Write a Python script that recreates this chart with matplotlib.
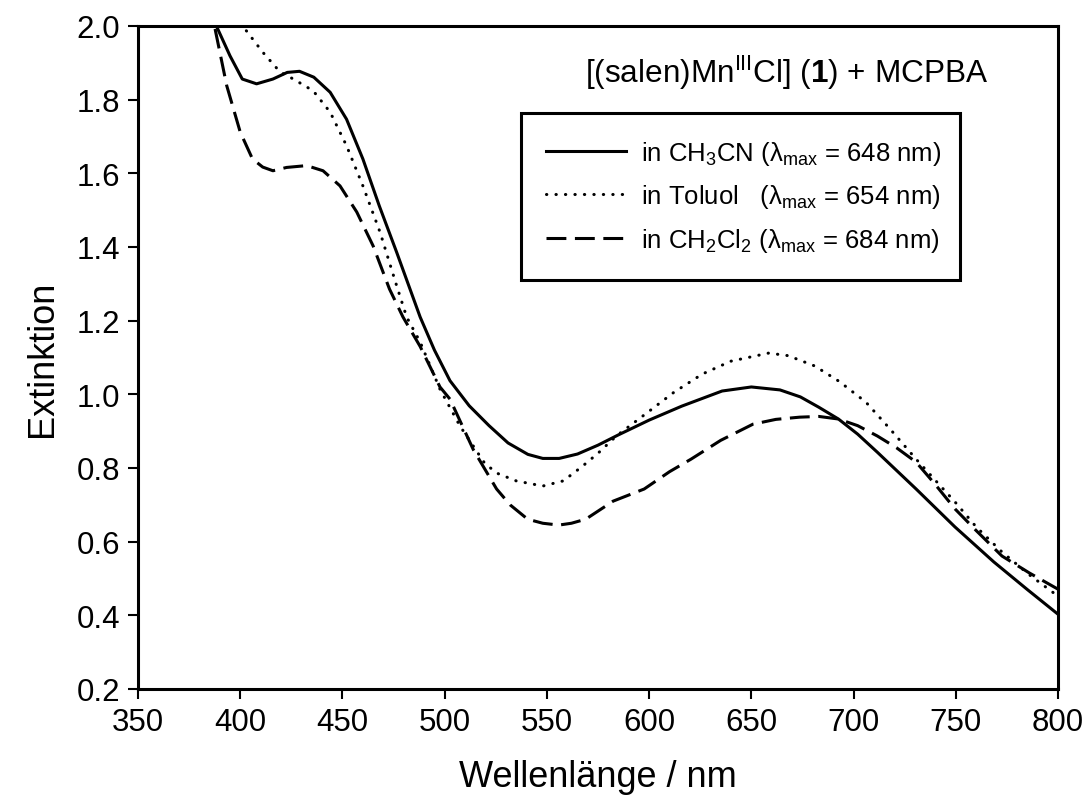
import matplotlib
matplotlib.use('Agg')
import matplotlib.pyplot as plt

plt.rcParams['font.family'] = ['Liberation Sans', 'DejaVu Sans']
plt.rcParams['mathtext.fontset'] = 'custom'
plt.rcParams['mathtext.rm'] = 'Liberation Sans'
plt.rcParams['mathtext.it'] = 'Liberation Sans:italic'
plt.rcParams['mathtext.bf'] = 'Liberation Sans:bold'

# (nm, extinction)
wl_ch3cn = [389, 395, 401, 408, 416, 423, 429, 436, 444, 452, 460, 468, 476.5, 488,
            495, 502.6, 512, 521.7, 531, 540.7, 548, 556, 565, 575, 585, 600, 616,
            635.7, 650, 664, 674, 683, 692.6, 702, 711.6, 730.6, 749.6, 768.6, 785, 800]
ext_ch3cn = [1.992, 1.919, 1.856, 1.843, 1.856, 1.874, 1.877, 1.861, 1.82, 1.747, 1.639, 1.512,
             1.386, 1.21, 1.12, 1.037, 0.969, 0.915, 0.868, 0.837, 0.826, 0.826, 0.838, 0.862,
             0.89, 0.93, 0.968, 1.009, 1.020, 1.012, 0.993, 0.965, 0.933, 0.892, 0.843, 0.743,
             0.640, 0.545, 0.47, 0.403]

wl_toluol = [403, 411, 419.5, 426, 435.7, 444, 452, 460, 468.4, 476.5, 481.4, 488,
             497.7, 507.5, 519.8, 526, 535, 548, 558, 567, 575, 584, 599.5, 612, 626,
             640, 658.5, 668, 681, 693, 706, 718, 730.6, 749.6, 760, 772.6, 786, 800]
ext_toluol = [1.987, 1.929, 1.875, 1.856, 1.824, 1.766, 1.675, 1.566, 1.44, 1.295, 1.21, 1.142,
              1.014, 0.914, 0.811, 0.785, 0.765, 0.751, 0.765, 0.803, 0.84, 0.887, 0.952, 1.005,
              1.055, 1.09, 1.112, 1.105, 1.077, 1.035, 0.979, 0.905, 0.824, 0.708, 0.64, 0.572,
              0.51, 0.452]

wl_ch2cl2 = [387.7, 393.4, 400, 406, 411, 416, 422.7, 432.5, 440.5, 448.8, 457, 465,
             473, 479.6, 488, 497.7, 502.6, 514, 525.4, 532, 540.6, 548, 555.8, 562, 569,
             582.4, 597.6, 610, 620.5, 635, 650.8, 662, 673.6, 683, 692.6, 702, 711.6, 721,
             730.6, 740, 749.6, 760, 772.6, 786, 800]
ext_ch2cl2 = [1.992, 1.838, 1.712, 1.639, 1.617, 1.607, 1.616, 1.621, 1.607, 1.566, 1.495, 1.403,
              1.286, 1.21, 1.13, 1.02, 0.987, 0.85, 0.743, 0.70, 0.661, 0.65, 0.645, 0.65, 0.661,
              0.71, 0.743, 0.79, 0.824, 0.875, 0.919, 0.932, 0.938, 0.94, 0.933, 0.915, 0.887,
              0.855, 0.816, 0.755, 0.689, 0.63, 0.561, 0.515, 0.471]

labels = ['in CH$_3$CN (λ$_{\\mathrm{max}}$ = 648 nm)',
          'in Toluol   (λ$_{\\mathrm{max}}$ = 654 nm)',
          'in CH$_2$Cl$_2$ (λ$_{\\mathrm{max}}$ = 684 nm)']

fig = plt.figure(figsize=(10.9, 8.12), dpi=100)
ax = fig.add_axes([138 / 1090, 1 - 690 / 812, 920 / 1090, 663 / 812])

lw = 2.2
ax.plot(wl_ch3cn, ext_ch3cn, color='black', lw=lw, ls='-', label=labels[0])
ax.plot(wl_toluol, ext_toluol, color='black', lw=lw, ls=(0, (0.1, 3)),
        dash_capstyle='round', label=labels[1])
ax.plot(wl_ch2cl2, ext_ch2cl2, color='black', lw=lw, ls=(0, (6.5, 2.8)),
        label=labels[2])

ax.set_xlim(350, 800)
ax.set_ylim(0.2, 2.0)
ax.set_xticks(range(350, 801, 50))
ax.set_yticks([0.2, 0.4, 0.6, 0.8, 1.0, 1.2, 1.4, 1.6, 1.8, 2.0])
ax.set_yticklabels(['0.2', '0.4', '0.6', '0.8', '1.0', '1.2', '1.4', '1.6', '1.8', '2.0'])
ax.tick_params(direction='out', length=7, width=1.5, labelsize=22.5, pad=6)
for s in ax.spines.values():
    s.set_linewidth(2.2)

ax.set_xlabel('Wellenlänge / nm', fontsize=26, labelpad=16)
ax.set_ylabel('Extinktion', fontsize=26, labelpad=12)

ax.text(0.705, 0.931, '[(salen)Mn$^{\\mathrm{III}}$Cl] ($\\mathbf{1}$) + MCPBA',
        transform=ax.transAxes, fontsize=22.7, ha='center', va='center')

leg = ax.legend(loc='upper left', bbox_to_anchor=(0.416, 0.869, 0.477, 0.0),
                mode='expand', borderaxespad=0, fontsize=18.5, handlelength=3.1,
                handletextpad=0.6, borderpad=1.0, labelspacing=0.62,
                fancybox=False, framealpha=1)
leg.get_frame().set_edgecolor('black')
leg.get_frame().set_linewidth(2.2)

fig.savefig('out.png', dpi=100)
